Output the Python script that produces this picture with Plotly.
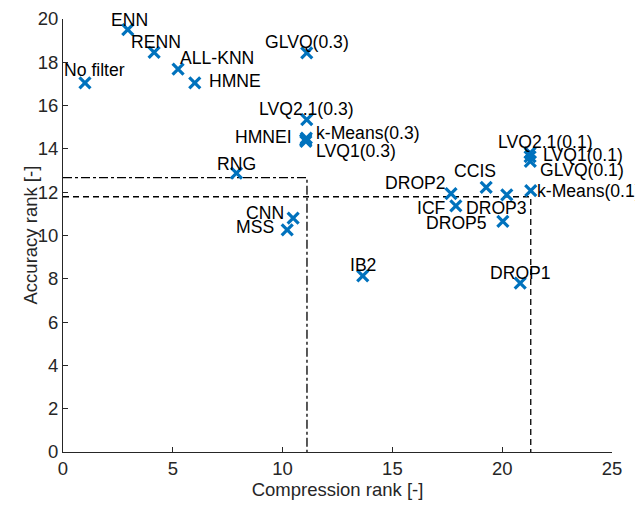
import plotly.graph_objects as go

# ---- data ----
methods = ["No filter", "ENN", "RENN", "ALL-KNN", "HMNE", "GLVQ(0.3)", "LVQ2.1(0.3)",
           "HMNEI", "k-Means(0.3)", "LVQ1(0.3)", "RNG", "CNN", "MSS", "IB2",
           "DROP2", "CCIS", "ICF", "DROP3", "DROP5", "DROP1",
           "LVQ2.1(0.1)", "LVQ1(0.1)", "GLVQ(0.1)", "k-Means(0.1)"]
compression_rank = [1.0, 2.95, 4.15, 5.24, 6.0, 11.1, 11.1,
                    11.05, 11.08, 11.06, 7.9, 10.48, 10.21, 13.65,
                    17.67, 19.27, 17.89, 20.21, 20.03, 20.82,
                    21.27, 21.27, 21.28, 21.3]
accuracy_rank = [17.05, 19.51, 18.46, 17.69, 17.05, 18.43, 15.35,
                 14.42, 14.5, 14.35, 12.88, 10.8, 10.26, 8.14,
                 11.93, 12.22, 11.37, 11.88, 10.65, 7.8,
                 13.82, 13.64, 13.42, 12.07]

# reference corner lines (threshold ranks)
dashdot_corner = (11.11, 12.67)
dashed_corner = (21.3, 11.79)

x_ticks = [0, 5, 10, 15, 20, 25]
y_ticks = [0, 2, 4, 6, 8, 10, 12, 14, 16, 18, 20]

x_title = "Compression rank [-]"
y_title = "Accuracy rank [-]"

# ---- label placement (pixel offsets, anchor) ----
label_pos = {
    "No filter": ("left", -22, 12.6),
    "ENN": ("left", -18, 10),
    "RENN": ("left", -24, 10),
    "ALL-KNN": ("left", 1, 10.7),
    "HMNE": ("left", 13, 1.6),
    "GLVQ(0.3)": ("center", 0, 10.7),
    "LVQ2.1(0.3)": ("center", 0, 10.7),
    "HMNEI": ("right", -12.5, 3.3),
    "k-Means(0.3)": ("left", 9, 5),
    "LVQ1(0.3)": ("left", 9, -10),
    "RNG": ("center", 0, 9),
    "CNN": ("right", -8, 5),
    "MSS": ("right", -12, 3.3),
    "IB2": ("center", 0, 11),
    "DROP2": ("right", -4, 10.7),
    "CCIS": ("left", -33, 16),
    "ICF": ("right", -9, -2.3),
    "DROP3": ("right", 21.6, -13.3),
    "DROP5": ("right", -15, -1.6),
    "DROP1": ("center", 0, 10),
    "LVQ2.1(0.1)": ("left", -33, 11.3),
    "LVQ1(0.1)": ("left", 12, 2),
    "GLVQ(0.1)": ("left", 9, -8.7),
    "k-Means(0.1)": ("left", 5, 0),
}

FONT = "Liberation Sans"
AXC = "#262626"
FS = 18.5      # axis text
FS_LAB = 17.6  # point labels

# page body has an 8px margin: figure is sized/placed to compensate
W, H = 635, 501
ML, MR, MT, MB = 55, 31, 11, 57
PW = W - ML - MR

fig = go.Figure()

cx, cy = dashdot_corner
fig.add_trace(go.Scatter(x=[0, cx, cx], y=[cy, cy, 0], mode="lines",
                         line=dict(color="black", width=1.3, dash="dashdot"),
                         hoverinfo="skip", showlegend=False))
dx, dy = dashed_corner
fig.add_trace(go.Scatter(x=[0, dx, dx], y=[dy, dy, 0], mode="lines",
                         line=dict(color="black", width=1.3, dash="6px,4px"),
                         hoverinfo="skip", showlegend=False))

fig.add_trace(go.Scatter(x=compression_rank, y=accuracy_rank, mode="markers",
                         text=methods, hoverinfo="text",
                         marker=dict(symbol="x-thin", size=11,
                                     line=dict(color="#0072BD", width=3.2),
                                     color="#0072BD"),
                         showlegend=False))

for name, xv, yv in zip(methods, compression_rank, accuracy_rank):
    anchor, xs, ys = label_pos[name]
    fig.add_annotation(x=xv, y=yv, text=name, showarrow=False,
                       xanchor=anchor, yanchor="middle",
                       xshift=xs, yshift=ys, borderpad=0,
                       font=dict(family=FONT, size=FS_LAB, color="black"))

# y axis title (rotated), placed ~33px left of the axis line
fig.add_annotation(xref="paper", yref="paper", x=-33 / PW, y=0.5,
                   text=y_title, textangle=-90, showarrow=False,
                   xanchor="center", yanchor="middle",
                   font=dict(family=FONT, size=FS, color=AXC))

fig.update_layout(
    width=W, height=H,
    margin=dict(l=ML, r=MR, t=MT, b=MB, autoexpand=False),
    paper_bgcolor="white", plot_bgcolor="white",
    font=dict(family=FONT, size=FS, color=AXC),
    xaxis=dict(range=[0, 25], tickvals=x_ticks, showgrid=False, zeroline=False,
               showline=True, linecolor=AXC, linewidth=1, ticks="inside",
               ticklen=5, tickcolor=AXC, automargin=False,
               tickfont=dict(size=FS, color=AXC),
               title=dict(text=x_title, standoff=4,
                          font=dict(size=FS, color=AXC))),
    yaxis=dict(range=[0, 20], tickvals=y_ticks, showgrid=False, zeroline=False,
               showline=True, linecolor=AXC, linewidth=1, ticks="inside",
               ticklen=5, tickcolor=AXC, automargin=False,
               tickfont=dict(size=FS, color=AXC)),
)

fig.write_html("out.html")
